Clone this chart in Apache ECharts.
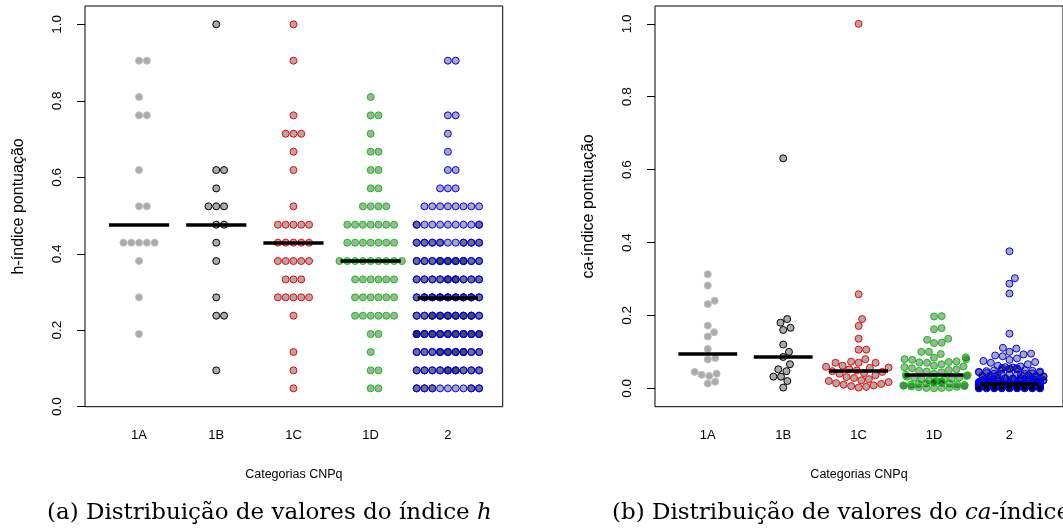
<!DOCTYPE html>
<html>
<head>
<meta charset="utf-8">
<script src="https://cdn.jsdelivr.net/npm/echarts@6/dist/echarts.min.js"></script>
<style>
  html, body { margin: 0; padding: 0; background: #fff; }
  #chart { width: 1063px; height: 532px; }
</style>
</head>
<body>
<div id="chart"></div>
<script>
// categorias CNPq
const cats = ['1A', '1B', '1C', '1D', '2'];

// (a) índice h: níveis possíveis (h/21) e quantos pesquisadores em cada nível, por categoria
const hLevels = [0.048, 0.095, 0.143, 0.190, 0.238, 0.286, 0.333, 0.381, 0.429, 0.476,
                 0.524, 0.571, 0.619, 0.667, 0.714, 0.762, 0.810, 0.857, 0.905, 0.952, 1.000];
const hCounts1A = [0, 0, 0, 1, 0, 1, 0, 1, 5, 0, 2, 0, 1, 0, 0, 2, 1, 0, 2, 0, 0];
const hCounts1B = [0, 1, 0, 0, 2, 1, 0, 1, 1, 2, 3, 1, 2, 0, 0, 0, 0, 0, 0, 0, 1];
const hCounts1C = [1, 1, 1, 0, 1, 5, 3, 5, 5, 5, 1, 0, 1, 1, 3, 1, 0, 0, 1, 0, 1];
const hCounts1D = [2, 2, 1, 2, 6, 6, 6, 9, 7, 7, 4, 2, 2, 2, 1, 2, 1, 0, 0, 0, 0];
const hCounts2  = [14, 20, 22, 28, 24, 25, 20, 22, 16, 11, 8, 3, 2, 1, 1, 2, 0, 0, 2, 0, 0];
const hMedians = [0.476, 0.476, 0.429, 0.381, 0.286];

// (b) ca-índice, valores por categoria
const ca1A = [0.313, 0.282, 0.231, 0.240, 0.172, 0.142, 0.154, 0.108, 0.079, 0.083,
              0.045, 0.037, 0.034, 0.040, 0.013, 0.018];
const ca1B = [0.631, 0.190, 0.180, 0.166, 0.160, 0.120, 0.100, 0.086, 0.066, 0.052,
              0.047, 0.032, 0.032, 0.020, 0.002];
const ca1C = [1.000, 0.258, 0.190, 0.171, 0.136, 0.106, 0.106, 0.080, 0.073, 0.070,
              0.070, 0.070, 0.062, 0.059, 0.057, 0.056, 0.052, 0.049, 0.047, 0.045,
              0.042, 0.040, 0.036, 0.031, 0.028, 0.025, 0.022, 0.020, 0.017, 0.014,
              0.012, 0.010, 0.008, 0.006, 0.004, 0.002];
const ca1D = [0.197, 0.198, 0.162, 0.165, 0.133, 0.124, 0.125, 0.136, 0.094, 0.100,
              0.100, 0.085, 0.080, 0.084, 0.078, 0.080, 0.074, 0.072, 0.070, 0.071,
              0.066, 0.062, 0.060, 0.058, 0.055, 0.052, 0.050, 0.048, 0.046, 0.044,
              0.040, 0.037, 0.036, 0.034, 0.032, 0.030, 0.029, 0.027, 0.025, 0.024,
              0.022, 0.020, 0.019, 0.018, 0.016, 0.015, 0.014, 0.013, 0.012, 0.011,
              0.010, 0.009, 0.008, 0.007, 0.006, 0.005, 0.004, 0.003, 0.002, 0.001,
              0.001, 0.000];
const ca2 = [0.376, 0.302, 0.287, 0.260, 0.150, 0.111, 0.109, 0.100, 0.095, 0.093,
             0.090, 0.088, 0.082, 0.078, 0.075, 0.072, 0.070, 0.066, 0.062, 0.060,
             0.058, 0.057, 0.056, 0.055, 0.054, 0.053, 0.052, 0.051, 0.050, 0.049,
             0.048, 0.047, 0.046, 0.045, 0.044, 0.043, 0.042, 0.041, 0.040, 0.040,
             0.039, 0.038, 0.038, 0.037, 0.036, 0.036, 0.035, 0.034, 0.034, 0.033,
             0.032, 0.032, 0.031, 0.030, 0.030, 0.029, 0.028, 0.028, 0.027, 0.026,
             0.026, 0.025, 0.025, 0.024, 0.024, 0.023, 0.023, 0.022, 0.022, 0.021,
             0.021, 0.020, 0.020, 0.020, 0.019, 0.019, 0.019, 0.018, 0.018, 0.018,
             0.017, 0.017, 0.017, 0.017, 0.016, 0.016, 0.016, 0.016, 0.015, 0.015,
             0.015, 0.015, 0.015, 0.014, 0.014, 0.014, 0.014, 0.014, 0.014, 0.013,
             0.013, 0.013, 0.013, 0.013, 0.013, 0.012, 0.012, 0.012, 0.012, 0.012,
             0.012, 0.011, 0.011, 0.011, 0.011, 0.011, 0.011, 0.010, 0.010, 0.010,
             0.010, 0.010, 0.010, 0.010, 0.009, 0.009, 0.009, 0.009, 0.009, 0.009,
             0.009, 0.008, 0.008, 0.008, 0.008, 0.008, 0.008, 0.008, 0.008, 0.007,
             0.007, 0.007, 0.007, 0.007, 0.007, 0.007, 0.007, 0.006, 0.006, 0.006,
             0.006, 0.006, 0.006, 0.006, 0.006, 0.006, 0.005, 0.005, 0.005, 0.005,
             0.005, 0.005, 0.005, 0.005, 0.005, 0.004, 0.004, 0.004, 0.004, 0.004,
             0.004, 0.004, 0.004, 0.004, 0.004, 0.003, 0.003, 0.003, 0.003, 0.003,
             0.003, 0.003, 0.003, 0.003, 0.003, 0.002, 0.002, 0.002, 0.002, 0.002,
             0.002, 0.002, 0.002, 0.002, 0.002, 0.002, 0.001, 0.001, 0.001, 0.001,
             0.001, 0.001, 0.001, 0.001, 0.001, 0.001, 0.000, 0.000, 0.000, 0.000,
             0.000, 0.000, 0.000, 0.000, 0.000, 0.000, 0.000];
const caMedians = [0.096, 0.086, 0.048, 0.0365, 0.0137];

// estilo (paleta padrão antiga do R: gray, black, red, green3, blue)
const groupColors = ['#BEBEBE', '#000000', '#FF0000', '#00CD00', '#0000FF'];
const dotFill = 'rgba(0,0,0,0.33)';

// geometria dos dois painéis
const plotW = 417.7, plotH = 400.7;
const xMin = 0.3, xMax = 5.71;
const yRangeA = [0, 1.048];
const yRangeB = [-0.0505, 1.049];
const dotPx = 7.8;      // diâmetro usado no arranjo "swarm"
const corralSlots = 9;  // largura do curral (corral = "wrap"), em diâmetros
const medHalf = 0.39;   // meia largura do traço da mediana

function expand(counts) {
  const out = [];
  counts.forEach((n, i) => { for (let k = 0; k < n; k++) out.push(hLevels[i]); });
  return out;
}

// mesmo algoritmo do beeswarm(method = "swarm", corral = "wrap")
function swarm(values, yRange) {
  const pxPerY = plotH / (yRange[1] - yRange[0]);
  const pxPerX = plotW / (xMax - xMin);
  const order = values.map((v, i) => i).sort((a, b) => values[a] - values[b] || a - b);
  const placed = [];
  const off = new Array(values.length);
  for (const i of order) {
    const yi = values[i] * pxPerY / dotPx;
    const near = placed.filter(p => Math.abs(yi - p.y) < 1);
    let g = 0;
    if (near.length) {
      const cand = [0];
      near.forEach(p => cand.push(p.g + Math.sqrt(1 - (yi - p.y) ** 2)));
      near.forEach(p => cand.push(p.g - Math.sqrt(1 - (yi - p.y) ** 2)));
      let best = Infinity;
      for (const c of cand) {
        const bad = near.some(p => (yi - p.y) ** 2 + (c - p.g) ** 2 < 0.999);
        if (!bad && Math.abs(c) < Math.abs(best)) best = c;
      }
      g = best;
    }
    placed.push({ y: yi, g: g });
    const w = ((g + corralSlots / 2) % corralSlots + corralSlots) % corralSlots - corralSlots / 2;
    off[i] = w * dotPx / pxPerX;
  }
  return off;
}

function groupSeries(groups, yRange, axisIdx) {
  return groups.map((vals, gi) => {
    const off = swarm(vals, yRange);
    return {
      type: 'scatter',
      xAxisIndex: axisIdx, yAxisIndex: axisIdx,
      symbol: 'circle', symbolSize: 7,
      silent: true,
      itemStyle: { color: dotFill, borderColor: groupColors[gi], borderWidth: 1, opacity: 1 },
      data: vals.map((v, k) => [gi + 1 + off[k], v]),
      z: 2
    };
  });
}

function medianSeries(meds, axisIdx) {
  return {
    type: 'scatter', xAxisIndex: axisIdx, yAxisIndex: axisIdx, data: [], silent: true,
    markLine: {
      silent: true, symbol: 'none', animation: false,
      lineStyle: { color: '#000', width: 3.5, type: 'solid' },
      label: { show: false },
      data: meds.map((m, i) => [{ coord: [i + 1 - medHalf, m] }, { coord: [i + 1 + medHalf, m] }])
    },
    z: 5
  };
}

const tickVals = [0, 0.2, 0.4, 0.6, 0.8, 1.0];
const font = 'Liberation Sans';

function xAxisCfg(idx) {
  return {
    gridIndex: idx, type: 'value', min: xMin, max: xMax,
    axisLine: { show: false }, axisTick: { show: false }, splitLine: { show: false },
    axisLabel: {
      customValues: [1, 2, 3, 4, 5], formatter: v => cats[Math.round(v) - 1],
      margin: 22, fontSize: 13, color: '#000', fontFamily: font
    },
    name: 'Categorias CNPq', nameLocation: 'middle', nameGap: 61,
    nameTextStyle: { fontSize: 12.5, color: '#000', fontFamily: font }
  };
}

function yAxisCfg(idx, range, title) {
  return {
    gridIndex: idx, type: 'value', min: range[0], max: range[1],
    axisLine: { show: false }, splitLine: { show: false },
    axisTick: { show: true, customValues: tickVals, length: 8, lineStyle: { color: '#000' } },
    axisLabel: {
      customValues: tickVals, formatter: v => v.toFixed(1), rotate: 90,
      margin: 21, fontSize: 13.5, color: '#000', fontFamily: font
    },
    name: title, nameLocation: 'middle', nameRotate: 90, nameGap: 58,
    nameTextStyle: { fontSize: 16, color: '#000', fontFamily: font }
  };
}

const chart = echarts.init(document.getElementById('chart'), null, { renderer: 'canvas' });

const captionStyle = {
  fontFamily: 'DejaVu Serif', fontSize: 23, color: '#000', fontWeight: 'normal',
  rich: { i: { fontFamily: 'DejaVu Serif', fontSize: 23, fontStyle: 'italic', color: '#000' } }
};

chart.setOption({
  animation: false,
  backgroundColor: '#fff',
  title: [
    { text: '(a) Distribuição de valores do índice {i|h}', left: 47, top: 502, padding: 0, textStyle: captionStyle },
    { text: '(b) Distribuição de valores do {i|ca}-índice', left: 612, top: 502, padding: 0, textStyle: captionStyle }
  ],
  grid: [
    { left: 85, top: 6, width: plotW, height: plotH, show: true, borderColor: '#000', borderWidth: 1, backgroundColor: 'transparent' },
    { left: 655, top: 6, width: plotW, height: plotH, show: true, borderColor: '#000', borderWidth: 1, backgroundColor: 'transparent' }
  ],
  xAxis: [xAxisCfg(0), xAxisCfg(1)],
  yAxis: [
    yAxisCfg(0, yRangeA, 'h-índice pontuação'),
    yAxisCfg(1, yRangeB, 'ca-índice pontuação')
  ],
  series: [].concat(
    groupSeries([expand(hCounts1A), expand(hCounts1B), expand(hCounts1C), expand(hCounts1D), expand(hCounts2)], yRangeA, 0),
    [medianSeries(hMedians, 0)],
    groupSeries([ca1A, ca1B, ca1C, ca1D, ca2], yRangeB, 1),
    [medianSeries(caMedians, 1)]
  )
});
</script>
</body>
</html>
